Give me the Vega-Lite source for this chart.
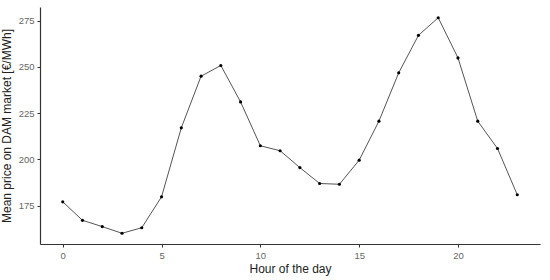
{
  "$schema": "https://vega.github.io/schema/vega-lite/v6.json",
  "autosize": "none",
  "width": 500,
  "height": 237,
  "padding": {"left": 40, "top": 7, "right": 10, "bottom": 36},
  "background": "white",
  "config": {"view": {"stroke": null}, "font": "Liberation Sans"},
  "data": {"values": [
    {"hour": 0, "price": 177},
    {"hour": 1, "price": 167},
    {"hour": 2, "price": 163.6},
    {"hour": 3, "price": 160},
    {"hour": 4, "price": 163},
    {"hour": 5, "price": 179.7},
    {"hour": 6, "price": 217},
    {"hour": 7, "price": 244.9},
    {"hour": 8, "price": 250.7},
    {"hour": 9, "price": 231},
    {"hour": 10, "price": 207.3},
    {"hour": 11, "price": 204.6},
    {"hour": 12, "price": 195.5},
    {"hour": 13, "price": 186.9},
    {"hour": 14, "price": 186.5},
    {"hour": 15, "price": 199.5},
    {"hour": 16, "price": 220.6},
    {"hour": 17, "price": 246.7},
    {"hour": 18, "price": 267},
    {"hour": 19, "price": 276.5},
    {"hour": 20, "price": 254.8},
    {"hour": 21, "price": 220.6},
    {"hour": 22, "price": 205.8},
    {"hour": 23, "price": 180.8}
  ]},
  "encoding": {
    "x": {"field": "hour", "type": "quantitative",
      "scale": {"domain": [-1.15, 24.15], "nice": false, "zero": false},
      "axis": {"title": "Hour of the day", "values": [0, 5, 10, 15, 20], "grid": false,
        "domainColor": "#333333", "domainWidth": 1.2, "tickColor": "#333333", "tickSize": 3,
        "labelColor": "#666666", "labelFontSize": 9.5, "labelPadding": 3,
        "titleFontSize": 12, "titleFontWeight": "normal", "titleColor": "#222222", "titlePadding": 4}},
    "y": {"field": "price", "type": "quantitative",
      "scale": {"domain": [154.2, 282.3], "nice": false, "zero": false},
      "axis": {"title": "Mean price on DAM market [€/MWh]", "values": [175, 200, 225, 250, 275], "grid": false,
        "domainColor": "#333333", "domainWidth": 1.2, "tickColor": "#333333", "tickSize": 3,
        "labelColor": "#666666", "labelFontSize": 9.5, "labelPadding": 3,
        "titleFontSize": 12, "titleFontWeight": "normal", "titleColor": "#222222", "titlePadding": 5}}
  },
  "layer": [
    {"mark": {"type": "line", "color": "#555555", "strokeWidth": 1}},
    {"mark": {"type": "point", "filled": true, "color": "#000000", "size": 10, "opacity": 1}}
  ]
}
